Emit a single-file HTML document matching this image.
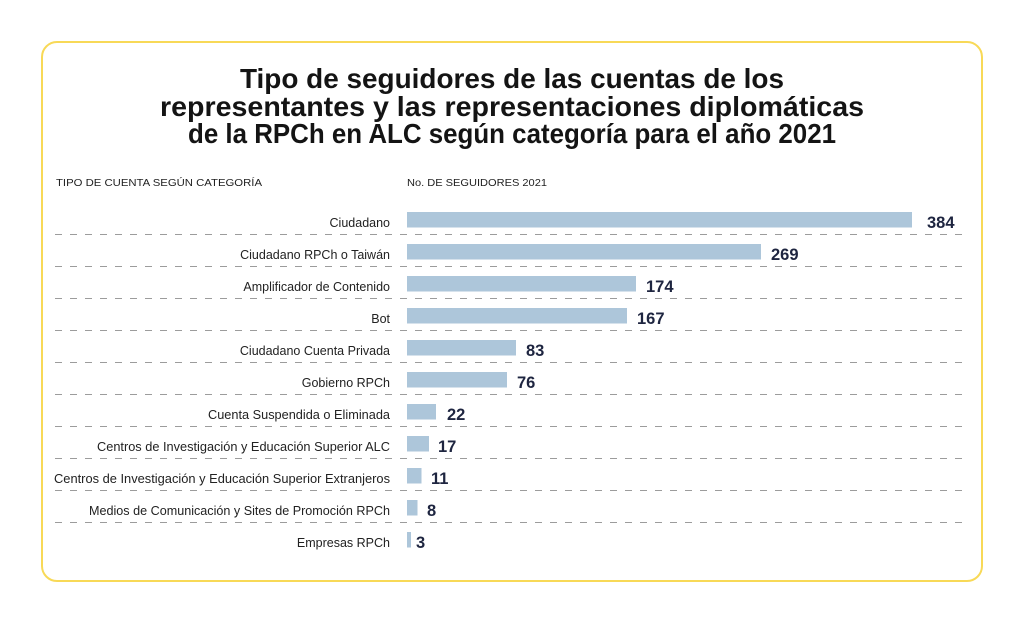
<!DOCTYPE html>
<html>
<head>
<meta charset="utf-8">
<style>
  html, body { margin: 0; padding: 0; background: #ffffff; }
  body { width: 1024px; height: 623px; overflow: hidden; }
  svg { display: block; }
  .title { font-family: "Liberation Sans", sans-serif; font-weight: bold; font-size: 27.5px; fill: #141414; }
  .hdr { font-family: "Liberation Sans", sans-serif; font-size: 10.5px; fill: #1f1f1f; }
  .lbl { font-family: "Liberation Sans", sans-serif; font-size: 12.5px; fill: #222222; }
  .val { font-family: "Liberation Sans", sans-serif; font-weight: bold; font-size: 16.5px; fill: #1e2540; }
  .bar { fill: #adc6da; }
  .dash { stroke: #9c9c9c; stroke-width: 1; stroke-dasharray: 7 8; }
</style>
</head>
<body>
<svg width="1024" height="623" viewBox="0 0 1024 623" xmlns="http://www.w3.org/2000/svg">
  <rect x="0" y="0" width="1024" height="623" fill="#ffffff"/>
  <rect x="42" y="42" width="940" height="539" rx="15" ry="15" fill="#ffffff" stroke="#f8d957" stroke-width="2"/>

  <!-- Title -->
  <text class="title" x="240" y="88" textLength="544" lengthAdjust="spacingAndGlyphs">Tipo de seguidores de las cuentas de los</text>
  <text class="title" x="160" y="116" textLength="704" lengthAdjust="spacingAndGlyphs">representantes y las representaciones diplomáticas</text>
  <text class="title" x="188" y="143" textLength="648" lengthAdjust="spacingAndGlyphs">de la RPCh en ALC según categoría para el año 2021</text>

  <!-- Headers -->
  <text class="hdr" x="56" y="186" textLength="206" lengthAdjust="spacingAndGlyphs">TIPO DE CUENTA SEGÚN CATEGORÍA</text>
  <text class="hdr" x="407" y="186" textLength="140" lengthAdjust="spacingAndGlyphs">No. DE SEGUIDORES 2021</text>

  <!-- Dashed separators -->
  <line class="dash" x1="55" y1="234.5" x2="966" y2="234.5"/>
  <line class="dash" x1="55" y1="266.5" x2="966" y2="266.5"/>
  <line class="dash" x1="55" y1="298.5" x2="966" y2="298.5"/>
  <line class="dash" x1="55" y1="330.5" x2="966" y2="330.5"/>
  <line class="dash" x1="55" y1="362.5" x2="966" y2="362.5"/>
  <line class="dash" x1="55" y1="394.5" x2="966" y2="394.5"/>
  <line class="dash" x1="55" y1="426.5" x2="966" y2="426.5"/>
  <line class="dash" x1="55" y1="458.5" x2="966" y2="458.5"/>
  <line class="dash" x1="55" y1="490.5" x2="966" y2="490.5"/>
  <line class="dash" x1="55" y1="522.5" x2="966" y2="522.5"/>

  <!-- Bars -->
  <rect class="bar" x="407" y="212" width="505" height="15.5"/>
  <rect class="bar" x="407" y="244" width="354" height="15.5"/>
  <rect class="bar" x="407" y="276" width="229" height="15.5"/>
  <rect class="bar" x="407" y="308" width="220" height="15.5"/>
  <rect class="bar" x="407" y="340" width="109" height="15.5"/>
  <rect class="bar" x="407" y="372" width="100" height="15.5"/>
  <rect class="bar" x="407" y="404" width="29" height="15.5"/>
  <rect class="bar" x="407" y="436" width="22" height="15.5"/>
  <rect class="bar" x="407" y="468" width="14.5" height="15.5"/>
  <rect class="bar" x="407" y="500" width="10.5" height="15.5"/>
  <rect class="bar" x="407" y="532" width="4" height="15.5"/>

  <!-- Category labels -->
  <text class="lbl" x="390" y="227" text-anchor="end">Ciudadano</text>
  <text class="lbl" x="390" y="259" text-anchor="end">Ciudadano RPCh o Taiwán</text>
  <text class="lbl" x="390" y="291" text-anchor="end">Amplificador de Contenido</text>
  <text class="lbl" x="390" y="323" text-anchor="end">Bot</text>
  <text class="lbl" x="390" y="355" text-anchor="end">Ciudadano Cuenta Privada</text>
  <text class="lbl" x="390" y="387" text-anchor="end">Gobierno RPCh</text>
  <text class="lbl" x="208" y="419" textLength="182" lengthAdjust="spacingAndGlyphs">Cuenta Suspendida o Eliminada</text>
  <text class="lbl" x="97" y="451" textLength="293" lengthAdjust="spacingAndGlyphs">Centros de Investigación y Educación Superior ALC</text>
  <text class="lbl" x="54" y="483" textLength="336" lengthAdjust="spacingAndGlyphs">Centros de Investigación y Educación Superior Extranjeros</text>
  <text class="lbl" x="89" y="515" textLength="301" lengthAdjust="spacingAndGlyphs">Medios de Comunicación y Sites de Promoción RPCh</text>
  <text class="lbl" x="390" y="547" text-anchor="end">Empresas RPCh</text>

  <!-- Values -->
  <text class="val" x="927" y="228">384</text>
  <text class="val" x="771" y="260">269</text>
  <text class="val" x="646" y="292">174</text>
  <text class="val" x="637" y="324">167</text>
  <text class="val" x="526" y="356">83</text>
  <text class="val" x="517" y="388">76</text>
  <text class="val" x="447" y="420">22</text>
  <text class="val" x="438" y="452">17</text>
  <text class="val" x="431" y="484">11</text>
  <text class="val" x="427" y="516">8</text>
  <text class="val" x="416" y="548">3</text>
</svg>
</body>
</html>
